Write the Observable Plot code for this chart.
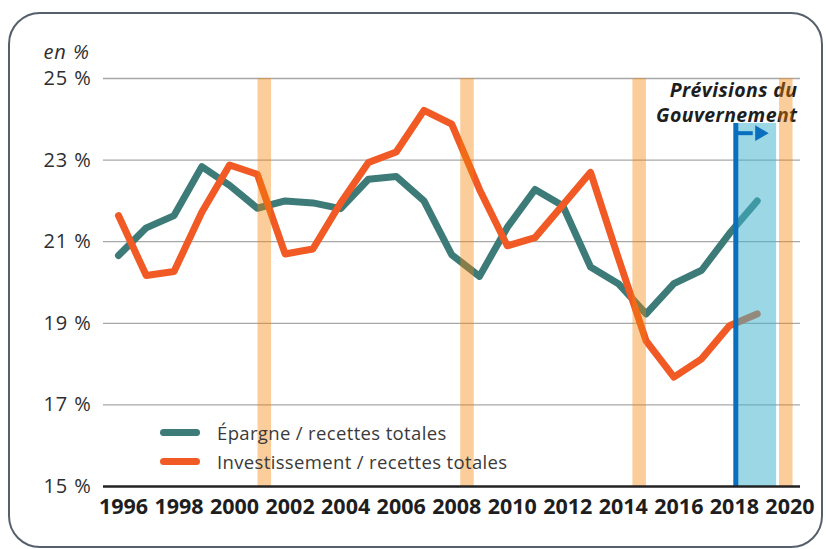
<!DOCTYPE html>
<html>
<head>
<meta charset="utf-8">
<script src="https://cdn.jsdelivr.net/npm/d3@7"></script>
<script src="https://cdn.jsdelivr.net/npm/@observablehq/plot@0.6"></script>
<style>
  html, body { margin: 0; padding: 0; background: #fff; }
  #wrap { position: relative; width: 826px; height: 549px; font-family: "Open Sans", sans-serif; }
  #frame { position: absolute; left: 8px; top: 12px; width: 811px; height: 532px; border: 2.5px solid #56606c; border-radius: 32px; pointer-events: none; }
  #legend { position: absolute; left: 160px; top: 418px; font-size: 18.5px; letter-spacing: 0.35px; color: #3a3a3a; }
  #legend .item { display: flex; align-items: center; height: 29px; }
  #legend .sw { display: inline-block; width: 40px; height: 7px; border-radius: 4px; margin-right: 17px; }
  .ylab text { letter-spacing: 0.9px; }
  .note text { letter-spacing: 0.4px; }
</style>
</head>
<body>
<div id="wrap">
  <div id="chart"></div>
  <div id="frame"></div>
  <div id="legend"></div>
</div>
<script>
const years = [1996,1997,1998,1999,2000,2001,2002,2003,2004,2005,2006,2007,2008,2009,2010,2011,2012,2013,2014,2015,2016,2017,2018,2019];
const epargne = [20.66,21.34,21.64,22.84,22.38,21.82,22.0,21.95,21.81,22.53,22.6,22.0,20.68,20.15,21.35,22.28,21.88,20.38,19.97,19.23,19.97,20.3,21.2,22.0];
const investissement = [21.64,20.17,20.27,21.72,22.88,22.65,20.7,20.82,21.95,22.94,23.2,24.22,23.88,22.28,20.9,21.1,21.9,22.7,20.6,18.57,17.68,18.13,18.94,19.23];
const seriesNames = ["Épargne / recettes totales", "Investissement / recettes totales"];
const seriesColors = ["#3d7b78", "#f15a24"];
const yTicks = [15,17,19,21,23,25];
const xTicks = [1996,1998,2000,2002,2004,2006,2008,2010,2012,2014,2016,2018,2020];
const electionBars = [2001.25, 2008.55, 2014.75, 2020.03];
const forecastStart = 2018.23;
const forecastBand = {x1: 2018.28, x2: 2019.7, top: 23.9};
const arrowY = 23.66;
const arrowShaftEnd = 2018.84;
const arrowHeadX = 2019.09;
const forecastLabel = "Prévisions du\nGouvernement";

const rows = [];
years.forEach((yr, i) => {
  rows.push({year: yr, value: epargne[i], series: seriesNames[0]});
  rows.push({year: yr, value: investissement[i], series: seriesNames[1]});
});

const chart = Plot.plot({
  width: 826,
  height: 549,
  marginLeft: 103,
  marginRight: 26,
  marginTop: 78,
  marginBottom: 63,
  style: {fontFamily: "'Open Sans', sans-serif", background: "transparent"},
  x: {domain: [1995.46, 2020.56], axis: null},
  y: {domain: [15, 25], axis: null},
  color: {domain: seriesNames, range: seriesColors},
  marks: [
    Plot.ruleY(yTicks.filter(d => d > 15), {stroke: "#a8a8a8", strokeWidth: 1.3}),
    Plot.line(rows, {x: "year", y: "value", z: "series", stroke: "series", strokeWidth: 7, strokeLinecap: "round", strokeLinejoin: "round"}),
    Plot.rect([forecastBand], {x1: "x1", x2: "x2", y1: 15, y2: "top", fill: "#42b4cc", fillOpacity: 0.53}),
    Plot.ruleX([forecastStart], {y1: 15, y2: forecastBand.top, stroke: "#0b6fc0", strokeWidth: 5}),
    Plot.link([{x1: forecastStart, x2: arrowShaftEnd, y: arrowY}], {x1: "x1", x2: "x2", y1: "y", y2: "y", stroke: "#0b6fc0", strokeWidth: 4}),
    Plot.dot([{x: arrowHeadX, y: arrowY}], {x: "x", y: "y", symbol: "triangle", r: 5.8, rotate: 90, fill: "#0b6fc0", stroke: null}),
    Plot.text([forecastLabel], {text: d => d, frameAnchor: "top-right", dx: -3, dy: 1, lineAnchor: "top", textAnchor: "end", fontSize: 19.5, fontWeight: 700, fontStyle: "italic", fill: "#1e1e1e", lineHeight: 1.28, className: "note"}),
    Plot.ruleX(electionBars, {y1: 15, y2: 25, stroke: "#f28205", strokeOpacity: 0.4, strokeWidth: 13.5}),
    Plot.ruleY([15], {stroke: "#222", strokeWidth: 2.6}),
    Plot.text(yTicks, {y: d => d, text: d => d + " %", frameAnchor: "left", dx: -60, textAnchor: "start", fontSize: 20, fill: "#2e2e2e", className: "ylab"}),
    Plot.text(xTicks, {x: d => d, text: d => String(d), frameAnchor: "bottom", dy: 27, dx: 5, fontSize: 21.5, fontWeight: 700, fill: "#1e1e1e"}),
    Plot.text(["en %"], {text: d => d, frameAnchor: "top-left", dx: -60, dy: -34, textAnchor: "start", fontSize: 20, fontStyle: "italic", fill: "#2e2e2e", className: "ylab"})
  ]
});
document.getElementById("chart").appendChild(chart);

const legend = document.getElementById("legend");
seriesNames.forEach((name, i) => {
  const item = document.createElement("div");
  item.className = "item";
  const sw = document.createElement("span");
  sw.className = "sw";
  sw.style.background = seriesColors[i];
  const label = document.createElement("span");
  label.textContent = name;
  item.appendChild(sw);
  item.appendChild(label);
  legend.appendChild(item);
});
</script>
</body>
</html>
